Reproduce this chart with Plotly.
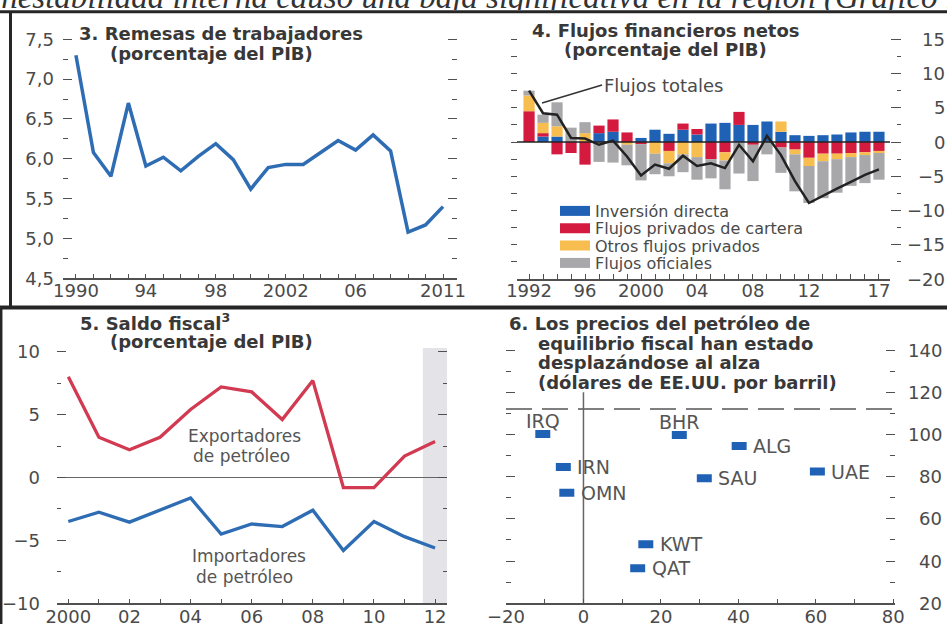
import plotly.graph_objects as go

W, H = 947, 624

# ---------------- data ----------------
# Panel 3: workers' remittances (% of GDP)
rem_years = list(range(1990, 2012))
rem_values = [7.30, 6.08, 5.78, 6.70, 5.91, 6.02, 5.85, 6.03, 6.19, 5.99, 5.62,
              5.89, 5.93, 5.93, 6.08, 6.23, 6.11, 6.30, 6.10, 5.08, 5.17, 5.40]
rem_tickvals = [1990, 1994, 1998, 2002, 2006, 2011]
rem_ticktext = ["1990", "94", "98", "2002", "06", "2011"]

# Panel 4: net financial flows (% of GDP)
flow_years = list(range(1992, 2018))
flow_names = ["Inversión directa", "Flujos privados de cartera",
              "Otros flujos privados", "Flujos oficiales"]
fdi = [0.0, 0.8, 0.8, 0.0, 0.0, 1.3, 1.5, 0.0, 0.6, 1.8, 1.2, 1.8, 1.1,
       2.7, 2.8, 2.5, 2.5, 3.0, 1.5, 1.0, 0.9, 1.0, 1.1, 1.4, 1.5, 1.5]
portfolio = [4.5, 0.5, -1.8, -1.6, -3.3, 1.1, 1.8, 1.4, -0.3, 0.0, -1.3, 0.9, 0.8,
             -2.5, -1.5, 1.9, -0.4, 0.0, -0.8, -1.1, -2.3, -1.7, -1.7, -1.6, -1.5, -1.3]
other_private = [2.3, 1.5, 1.5, 0.0, 1.3, 0.0, 0.0, -0.4, 0.0, -1.7, -1.8, -1.8, -2.2,
                 0.0, -1.2, 0.0, 0.0, 0.0, 1.5, -0.7, -1.2, -1.1, -0.8, -0.6, -0.4, -0.3]
official = [0.7, 1.2, 3.5, 2.1, 1.6, -2.9, -3.0, -3.0, -5.3, -3.0, -1.9, -2.6, -3.3,
            -2.8, -4.2, -4.6, -5.3, -1.8, -3.7, -5.4, -5.4, -5.4, -4.9, -4.2, -4.1, -3.9]
total_flows = [7.5, 4.2, 4.0, 0.6, 0.5, -0.4, 0.2, -2.1, -4.9, -3.3, -3.9, -2.0, -3.5,
               -3.1, -3.8, -0.4, -2.8, 0.9, -1.9, -5.7, -8.9, -7.8, -6.8, -5.8, -4.8, -4.0]
flow_tickvals = [1992, 1996, 2000, 2004, 2008, 2012, 2017]
flow_ticktext = ["1992", "96", "2000", "04", "08", "12", "17"]
flow_right_labels = [15, 10, 5, 0, -5, -10, -15, -20]

# Panel 5: fiscal balance (% of GDP)
fiscal_years = list(range(2000, 2013))
exporters = [8.0, 3.2, 2.2, 3.2, 5.4, 7.2, 6.8, 4.6, 7.7, -0.8, -0.8, 1.7, 2.85]
importers = [-3.5, -2.76, -3.55, -2.6, -1.63, -4.5, -3.7, -3.9, -2.6, -5.8, -3.5, -4.7, -5.6]
fiscal_tickvals = [2000, 2002, 2004, 2006, 2008, 2010, 2012]
fiscal_ticktext = ["2000", "02", "04", "06", "08", "10", "12"]
projection_start = 2011.6

# Panel 6: fiscal breakeven oil prices (US$ per barrel)
countries = ["IRQ", "BHR", "ALG", "IRN", "UAE", "SAU", "OMN", "KWT", "QAT"]
price_change = [-10.5, 24.75, 40.2, -5.2, 60.4, 31.2, -4.3, 16.1, 14.0]
breakeven = [100.2, 99.7, 94.5, 84.6, 82.4, 79.2, 72.4, 48.0, 36.6]
reference_price = 112
oil_xticks = [-20, 0, 20, 40, 60, 80]
oil_right_labels = [140, 120, 100, 80, 60, 40, 20]

# ---------------- styles ----------------
FONT = "DejaVu Sans"
TITLEC = "#383838"
LABC = "#4a4a4a"
TXTC = "#555555"
AXC = "#505050"
BLUE_LINE = "#2e6db4"
RED_LINE = "#d23a52"
C_BLUE = "#1f62b5"
C_RED = "#d41a3f"
C_YEL = "#f8bd4f"
C_GRAY = "#a8a8aa"
flow_colors = [C_BLUE, C_RED, C_YEL, C_GRAY]
tickfont = dict(family=FONT, size=18, color=LABC)


def fx(p):
    return p / W


def fy(p):
    return 1 - p / H


def num(v):
    return str(v).replace("-", "\u2212")


fig = go.Figure()

# ---- Panel 3 ----
fig.add_trace(go.Scatter(x=rem_years, y=rem_values, mode="lines", name="Remesas",
                         line=dict(color=BLUE_LINE, width=3.5),
                         xaxis="x", yaxis="y", showlegend=False))

# ---- Panel 4 ----
for name, vals, col in zip(flow_names, [fdi, portfolio, other_private, official], flow_colors):
    fig.add_trace(go.Bar(x=flow_years, y=vals, name=name, marker=dict(color=col, line=dict(width=0)),
                         xaxis="x2", yaxis="y3", showlegend=False, legendgroup=name))
fig.add_trace(go.Scatter(x=flow_years, y=total_flows, mode="lines", name="Flujos totales",
                         line=dict(color="#222222", width=2.5),
                         xaxis="x2", yaxis="y4", showlegend=False))
legend_ids = ["legend", "legend2", "legend3", "legend4"]
for name, col, lg in zip(flow_names, flow_colors, legend_ids):
    fig.add_trace(go.Scatter(x=[None], y=[None], mode="lines", name=name, legendgroup=name,
                             legend=lg, line=dict(color=col, width=10), xaxis="x2", yaxis="y3"))

# ---- Panel 5 ----
fig.add_trace(go.Scatter(x=fiscal_years, y=exporters, mode="lines", name="Exportadores de petróleo",
                         line=dict(color=RED_LINE, width=3.3), xaxis="x3", yaxis="y6", showlegend=False))
fig.add_trace(go.Scatter(x=fiscal_years, y=importers, mode="lines", name="Importadores de petróleo",
                         line=dict(color=BLUE_LINE, width=3.3), xaxis="x3", yaxis="y6", showlegend=False))

# ---- Panel 6 ----
fig.add_trace(go.Scatter(x=price_change, y=breakeven, mode="markers", text=countries, name="Países",
                         marker=dict(symbol="line-ew", size=10.7,
                                     line=dict(color=C_BLUE, width=8)),
                         xaxis="x4", yaxis="y8", showlegend=False))

common_x = dict(showline=True, linecolor=AXC, linewidth=1.5, ticks="inside", ticklen=5,
                tickcolor=AXC, tickwidth=1.2, tickfont=tickfont, showgrid=False,
                zeroline=False, fixedrange=True)
common_y = dict(showline=False, showgrid=False, zeroline=False, ticks="inside",
                tickcolor=AXC, tickwidth=1.2, fixedrange=True)
minor_x = dict(ticks="inside", ticklen=5, tickcolor=AXC, tickwidth=1.2)

legend_rows = [211, 228.3, 245.6, 263]
legend_common = dict(x=fx(555), xanchor="left", yanchor="middle", bgcolor="rgba(0,0,0,0)",
                     borderwidth=0, font=dict(family=FONT, size=16, color=LABC), itemclick=False)

fig.update_layout(
    width=W, height=H, autosize=False,
    margin=dict(l=0, r=0, t=0, b=0, pad=0, autoexpand=False),
    paper_bgcolor="white", plot_bgcolor="rgba(0,0,0,0)",
    separators=",.",
    barmode="relative", bargap=0.2,
    font=dict(family=FONT, color=LABC),
    # panel 3
    xaxis=dict(domain=[fx(63), fx(457)], range=[1989.26, 2011.8], anchor="y",
               tickvals=rem_tickvals, ticktext=rem_ticktext, ticklabelstandoff=-5,
               minor=dict(tickvals=rem_years, **minor_x), **common_x),
    yaxis=dict(domain=[fy(278.3), fy(30)], range=[4.5, 7.617], anchor="x", side="left",
               ticklen=9, dtick=0.5, tick0=4.5, tickformat=".1f", tickfont=tickfont,
               ticklabelstandoff=8, mirror="ticks",
               minor=dict(dtick=0.25, ticks="inside", ticklen=5, tickcolor=AXC, tickwidth=1.2),
               **common_y),
    # panel 4
    xaxis2=dict(domain=[fx(517), fx(890)], range=[1991.14, 2017.79], anchor="y3",
                tickvals=flow_tickvals, ticktext=flow_ticktext, ticklabelstandoff=-5,
                minor=dict(tickvals=flow_years, **minor_x), **common_x),
    yaxis3=dict(domain=[fy(279), fy(30)], range=[-20, 16.36], anchor="free", position=fx(510),
                side="left", ticklen=6, dtick=2.5, tick0=0, showticklabels=False, **common_y),
    yaxis4=dict(overlaying="y3", anchor="free", position=fx(901), side="right", range=[-20, 16.36],
                ticklen=10, dtick=5, tick0=0, showticklabels=False,
                minor=dict(dtick=2.5, ticks="inside", ticklen=4, tickcolor=AXC, tickwidth=1.2),
                **common_y),
    # panel 5
    xaxis3=dict(domain=[fx(57), fx(447)], range=[1999.63, 2012.39], anchor="y6",
                tickvals=fiscal_tickvals, ticktext=fiscal_ticktext, ticklabelstandoff=-4,
                minor=dict(tickvals=fiscal_years, **minor_x), **common_x),
    yaxis6=dict(domain=[fy(603.3), fy(348)], range=[-10, 10.29], anchor="x3", side="left",
                ticklen=9, dtick=5, tick0=0, tickfont=tickfont, ticklabelstandoff=16,
                mirror="ticks",
                minor=dict(dtick=2.5, ticks="inside", ticklen=4, tickcolor=AXC, tickwidth=1.2),
                showline=False, showgrid=False, zeroline=True, zerolinecolor="#666666",
                zerolinewidth=1.2, ticks="inside", tickcolor=AXC, tickwidth=1.2, fixedrange=True),
    # panel 6
    xaxis4=dict(domain=[fx(506), fx(895)], range=[-20, 80.44], anchor="y8",
                tickvals=oil_xticks, ticklabelstandoff=-4,
                minor=dict(dtick=10, tick0=0, **minor_x), **common_x),
    yaxis8=dict(domain=[fy(603.3), fy(340)], range=[20, 144.74], anchor="x4", side="left",
                ticklen=9, dtick=20, tick0=20, showticklabels=False, mirror="ticks",
                minor=dict(dtick=10, ticks="inside", ticklen=5, tickcolor=AXC, tickwidth=1.2),
                **common_y),
    legend=dict(y=fy(legend_rows[0]), **legend_common),
    legend2=dict(y=fy(legend_rows[1]), **legend_common),
    legend3=dict(y=fy(legend_rows[2]), **legend_common),
    legend4=dict(y=fy(legend_rows[3]), **legend_common),
)

# ---------------- shapes ----------------
BORDER = "#262626"
shapes = [
    dict(type="line", xref="paper", yref="paper", x0=0, x1=1, y0=fy(11.7), y1=fy(11.7),
         line=dict(color=BORDER, width=3)),
    dict(type="line", xref="paper", yref="paper", x0=fx(10.5), x1=fx(10.5), y0=fy(11.7), y1=fy(307),
         line=dict(color=BORDER, width=3)),
    dict(type="line", xref="paper", yref="paper", x0=0, x1=1, y0=fy(307.5), y1=fy(307.5),
         line=dict(color=BORDER, width=4)),
    dict(type="line", xref="paper", yref="paper", x0=fx(1.2), x1=fx(1.2), y0=fy(307), y1=0,
         line=dict(color=BORDER, width=2.5)),
    # panel 4 zero line
    dict(type="line", xref="x2 domain", yref="y3", x0=0, x1=1, y0=0, y1=0,
         line=dict(color="#222222", width=1.5), layer="above"),
    # panel 5 projection shading
    dict(type="rect", xref="x3", yref="y6 domain", x0=projection_start, x1=2012.39, y0=0, y1=1,
         fillcolor="#e4e4e8", line=dict(width=0), layer="below"),
    # panel 6 reference lines
    dict(type="line", xref="x4 domain", yref="y8", x0=0, x1=1, y0=reference_price, y1=reference_price,
         line=dict(color="#555555", width=1.5, dash="26px,10px"), layer="below"),
    dict(type="line", xref="x4", yref="y8", x0=0, x1=0, y0=20, y1=120,
         line=dict(color="#666666", width=1.5), layer="below"),
]
fig.update_layout(shapes=shapes)

# ---------------- annotations ----------------
def text_line(text, x_px, base_px, size=18, bold=True, color=TITLEC):
    fig.add_annotation(text=text, xref="paper", yref="paper", x=fx(x_px),
                       y=fy(base_px - 0.35 * size), xanchor="left", yanchor="middle",
                       showarrow=False, align="left",
                       font=dict(family=FONT, size=size, color=color,
                                 weight="bold" if bold else "normal"))


# top banner: the document text above the charts, clipped just under its baseline
fig.add_annotation(text="inestabilidad interna causó una baja significativa en la región (Gráfico 1, paneles 3 y 4)",
                   xref="paper", yref="paper", x=fx(-10), y=fy(-3),
                   xanchor="left", yanchor="middle", height=25, valign="middle",
                   showarrow=False,
                   font=dict(family="Liberation Serif", size=33, color="#333333", style="italic"))

text_line("3. Remesas de trabajadores", 77, 40)
text_line("(porcentaje del PIB)", 108, 60)
text_line("4. Flujos financieros netos", 530, 37)
text_line("(porcentaje del PIB)", 562, 56)
text_line("5. Saldo fiscal<sup>3</sup>", 78, 328)
text_line("(porcentaje del PIB)", 108, 348)
text_line("6. Los precios del petróleo de", 507, 330)
text_line("equilibrio fiscal han estado", 536, 349.5)
text_line("desplazándose al alza", 536, 369)
text_line("(dólares de EE.UU. por barril)", 536, 388.5)

# panel 4 total flows label
fig.add_annotation(text="Flujos totales", xref="x2", yref="y3", x=1992.93, y=5.7,
                   showarrow=True, arrowhead=0, arrowwidth=1.5, arrowcolor="#333333",
                   ax=60, ay=-18, xanchor="left", yanchor="middle",
                   font=dict(family=FONT, size=18, color=LABC))

# right-hand tick labels (panel 4 and panel 6)
for v in flow_right_labels:
    fig.add_annotation(text=num(v), xref="paper", yref="y3", x=fx(947), y=v, showarrow=False,
                       xanchor="right", yanchor="middle", font=tickfont)
for v in oil_right_labels:
    fig.add_annotation(text=num(v), xref="paper", yref="y8", x=fx(944), y=v, showarrow=False,
                       xanchor="right", yanchor="middle", font=tickfont)

# panel 5 series labels
for txt, xv, yv in [("Exportadores", 2005.77, 3.26), ("de petróleo", 2005.65, 1.67),
                    ("Importadores", 2005.91, -6.28), ("de petróleo", 2005.75, -7.87)]:
    fig.add_annotation(text=txt, xref="x3", yref="y6", x=xv, y=yv, showarrow=False,
                       xanchor="center", yanchor="middle",
                       font=dict(family=FONT, size=17, color=TXTC))

# panel 6 country labels
ABOVE = {"IRQ", "BHR"}
for c, xv, yv in zip(countries, price_change, breakeven):
    if c in ABOVE:
        fig.add_annotation(text=c, xref="x4", yref="y8", x=xv, y=yv, showarrow=False,
                           xanchor="center", yanchor="middle", yshift=13,
                           font=dict(family=FONT, size=19, color=TXTC))
    else:
        fig.add_annotation(text=c, xref="x4", yref="y8", x=xv, y=yv, showarrow=False,
                           xanchor="left", yanchor="middle", xshift=12,
                           font=dict(family=FONT, size=19, color=TXTC))

fig.write_html("out.html", config={"displayModeBar": False},
               post_script="document.body.style.margin='0px';document.body.style.overflow='hidden';")
